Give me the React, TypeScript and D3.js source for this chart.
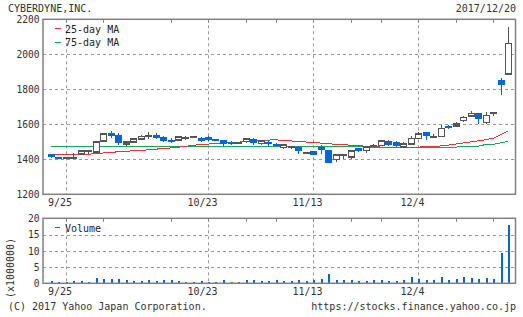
import React from "react";
import * as d3 from "d3";

const dates = [
  "9/21","9/22","9/25","9/26","9/27","9/28","9/29","10/2","10/3","10/4","10/5","10/6",
  "10/10","10/11","10/12","10/13","10/16","10/17","10/18","10/19","10/20","10/23","10/24",
  "10/25","10/26","10/27","10/30","10/31","11/1","11/2","11/6","11/7","11/8","11/9","11/10",
  "11/13","11/14","11/15","11/16","11/17","11/20","11/21","11/22","11/24","11/27","11/28",
  "11/29","11/30","12/1","12/4","12/5","12/6","12/7","12/8","12/11","12/12","12/13","12/14",
  "12/15","12/18","12/19","12/20",
];
const openP = [
  1429,1413,1405,1408,1431,1446,1442,1504,1550,1537,1486,1498,1515,1533,1537,1529,1513,1510,
  1524,1526,1523,1529,1517,1512,1498,1492,1502,1517,1490,1500,1490,1467,1469,1469,1438,1448,
  1469,1453,1400,1422,1412,1463,1451,1478,1478,1503,1499,1469,1486,1518,1554,1526,1531,1590,
  1589,1621,1646,1663,1611,1663,1853,1887,
];
const highP = [
  1432,1414,1407,1434,1450,1452,1506,1546,1562,1550,1500,1516,1540,1556,1548,1531,1523,1528,
  1533,1530,1527,1531,1518,1513,1504,1496,1523,1519,1506,1508,1494,1490,1478,1478,1442,1450,
  1480,1455,1430,1432,1448,1465,1472,1485,1505,1510,1506,1497,1533,1554,1555,1545,1594,1598,
  1615,1650,1675,1665,1672,1668,1864,2154,
];
const lowP = [
  1408,1402,1401,1402,1427,1431,1437,1504,1519,1481,1476,1497,1514,1515,1515,1498,1494,1502,
  1511,1520,1500,1504,1508,1477,1479,1485,1496,1479,1483,1477,1480,1460,1460,1430,1434,1425,
  1433,1381,1387,1402,1400,1444,1438,1474,1476,1474,1468,1467,1484,1516,1510,1524,1530,1571,
  1588,1615,1644,1602,1600,1645,1766,1887,
];
const closeP = [
  1412,1404,1405,1408,1446,1446,1500,1546,1531,1492,1499,1515,1531,1533,1523,1506,1500,1527,
  1524,1526,1506,1513,1508,1485,1494,1492,1517,1492,1504,1485,1486,1482,1469,1450,1438,1425,
  1455,1381,1424,1422,1446,1450,1470,1478,1503,1482,1476,1488,1520,1543,1535,1526,1577,1579,
  1602,1638,1661,1629,1650,1663,1823,2061,
];
const ma25 = [
  1428,1427,1425,1425,1426,1428,1433,1436,1439,1443,1445,1449,1451,1454,1458,1461,1465,1469,
  1474,1480,1484,1487,1489,1492,1495,1498,1501,1505,1508,1510,1511,1509,1505,1502,1499,1496,
  1493,1489,1486,1483,1481,1478,1475,1472,1470,1469,1469,1469,1469,1470,1471,1473,1476,1481,
  1487,1493,1499,1505,1512,1520,1540,1561,
];
const ma75 = [
  1476,1475,1471,1471,1471,1471,1471,1471,1471,1476,1476,1476,1476,1476,1472,1472,1472,1472,
  1475,1475,1475,1475,1475,1475,1475,1475,1475,1475,1475,1475,1475,1475,1471,1471,1471,1471,
  1471,1471,1471,1471,1471,1471,1471,1465,1465,1465,1465,1465,1465,1465,1465,1465,1469,1469,
  1469,1475,1475,1475,1484,1485,1494,1502,
];
const volume = [
  0.7,0.4,0.5,0.7,0.7,0.4,1.6,1.3,1.3,1.3,1.0,0.7,0.7,1.0,0.7,1.0,1.0,0.7,0.4,0.4,0.7,0.5,
  0.4,1.0,0.4,0.4,1.0,1.0,0.7,0.7,1.0,0.7,0.7,1.0,0.7,1.0,1.3,2.9,1.0,1.0,1.0,0.7,0.7,1.0,
  1.0,0.7,0.7,1.0,1.9,1.3,1.0,1.0,1.9,1.0,1.3,1.9,1.6,1.3,1.6,1.3,9.4,18.0,
];
const gridDates = ["9/25", "10/23", "11/13", "12/4"];
const tickDates = ["10/2", "10/16", "10/30", "11/6", "11/20", "11/27", "12/11", "12/18"];
const priceTicks = [1200, 1400, 1600, 1800, 2000, 2200];
const volTicks = [0, 5, 10, 15, 20];

const FONT = "'DejaVu Sans Mono', 'Liberation Mono', monospace";
const TXT = "#333";
const FRAME = "#808080";
const GRID = "#999";
const BLUE = "#0066dd";
const HOLLOW = "#555";
const RED = "#e8323c";
const GREEN = "#1da65a";

export default function App() {
  const W = 523, H = 317;
  const L = 43, R = 515.5;
  const x = d3.scaleLinear().domain([-1, dates.length]).range([L, R]);
  const yP = d3.scaleLinear().domain([1200, 2200]).range([194.3, 19.3]);
  const yV = d3.scaleLinear().domain([0, 20]).range([283.3, 218.3]);
  const idx = (d: string) => dates.indexOf(d);

  const line25 = d3.line<number>().x((_, i) => x(i)).y((v) => yP(v))(ma25) || "";
  const line75 = d3.line<number>().x((_, i) => x(i)).y((v) => yP(v))(ma75) || "";

  const bw = 6;

  const panel = (top: number, bottom: number) => (
    <g>
      {gridDates.map((d) => (
        <line key={"g" + d} x1={Math.round(x(idx(d))) + 0.5} x2={Math.round(x(idx(d))) + 0.5}
          y1={top} y2={bottom} stroke={GRID} strokeWidth={1} strokeDasharray="3,3" />
      ))}
      {tickDates.concat(gridDates).map((d) => (
        <line key={"t" + d} x1={Math.round(x(idx(d))) + 0.5} x2={Math.round(x(idx(d))) + 0.5}
          y1={top} y2={top + 3.5} stroke={FRAME} strokeWidth={1} />
      ))}
    </g>
  );

  return (
    <svg width={W} height={H} style={{ position: "absolute", left: 0, top: 0, background: "#fff" }}
      fontFamily={FONT} fontSize={10}>
      <rect x={0} y={0} width={W} height={H} fill="#fff" />
      <text x={8} y={12.3} fill={TXT}>CYBERDYNE,INC.</text>
      <text x={516} y={12.3} fill={TXT} textAnchor="end">2017/12/20</text>

      {/* price panel */}
      {priceTicks.slice(1, -1).map((p) => (
        <line key={"hp" + p} x1={L} x2={R} y1={Math.round(yP(p)) + 0.5} y2={Math.round(yP(p)) + 0.5}
          stroke={GRID} strokeDasharray="3,3" />
      ))}
      {panel(19.3, 194.3)}
      {priceTicks.map((p) => (
        <text key={"lp" + p} x={39.5} y={yP(p) + 3.8} fill={TXT} textAnchor="end" fontSize={9.6}>{p}</text>
      ))}
      {gridDates.map((d) => (
        <text key={"xp" + d} x={x(idx(d)) - 5.5} y={206} fill={TXT} textAnchor="middle">{d}</text>
      ))}

      <path d={line75} fill="none" stroke={GREEN} strokeWidth={1} shapeRendering="crispEdges" />
      <path d={line25} fill="none" stroke={RED} strokeWidth={1} shapeRendering="crispEdges" />

      {dates.map((d, i) => {
        const o = openP[i], c = closeP[i], h = highP[i], l = lowP[i];
        const cx = Math.round(x(i));
        const top = yP(Math.max(o, c)), bot = yP(Math.min(o, c));
        if (o === c) {
          return (
            <g key={"c" + i} shapeRendering="crispEdges">
              <line x1={cx + 0.5} x2={cx + 0.5} y1={yP(h)} y2={yP(l)} stroke={HOLLOW} strokeWidth={1} />
              <rect x={cx - 3} y={Math.round(top) - 1} width={7} height={2} fill={HOLLOW} />
            </g>
          );
        }
        if (c > o) {
          return (
            <g key={"c" + i} shapeRendering="crispEdges">
              <line x1={cx + 0.5} x2={cx + 0.5} y1={yP(h)} y2={yP(l)} stroke={HOLLOW} strokeWidth={1} />
              <rect x={cx - bw / 2 + 0.5} y={top} width={bw} height={Math.max(bot - top, 1)}
                fill="#fff" stroke={HOLLOW} strokeWidth={1.6} />
            </g>
          );
        }
        return (
          <g key={"c" + i} shapeRendering="crispEdges">
            <line x1={cx + 0.5} x2={cx + 0.5} y1={yP(h)} y2={yP(l)} stroke={BLUE} strokeWidth={1} />
            <rect x={cx - bw / 2} y={top} width={bw + 1} height={Math.max(bot - top, 2)} fill={BLUE} />
          </g>
        );
      })}

      <rect x={L} y={19.3} width={R - L} height={175} fill="none" stroke={FRAME} strokeWidth={1.5} />

      {/* legend */}
      <line x1={55} x2={61} y1={28.5} y2={28.5} stroke={RED} strokeWidth={1} />
      <text x={65} y={33} fill="#222">25-day MA</text>
      <line x1={55} x2={61} y1={42.5} y2={42.5} stroke={GREEN} strokeWidth={1} />
      <text x={65} y={46} fill="#222">75-day MA</text>

      {/* volume panel */}
      {volTicks.slice(1, -1).map((v) => (
        <line key={"hv" + v} x1={L} x2={R} y1={Math.round(yV(v)) + 0.5} y2={Math.round(yV(v)) + 0.5}
          stroke={GRID} strokeDasharray="3,3" />
      ))}
      {panel(218.3, 283.3)}
      {volume.map((v, i) => (
        <rect key={"v" + i} x={Math.round(x(i)) - 0.5} y={yV(v)} width={2} height={yV(0) - yV(v)}
          fill={BLUE} shapeRendering="crispEdges" />
      ))}
      <rect x={L} y={218.3} width={R - L} height={65} fill="none" stroke={FRAME} strokeWidth={1.5} />
      {volTicks.map((v) => (
        <text key={"lv" + v} x={39.5} y={yV(v) + 3.8} fill={TXT} textAnchor="end" fontSize={9.6}>{v}</text>
      ))}
      {gridDates.map((d) => (
        <text key={"xv" + d} x={x(idx(d)) - 5.5} y={295} fill={TXT} textAnchor="middle">{d}</text>
      ))}
      <text transform="translate(14,268) rotate(-90)" fill={TXT} textAnchor="middle">(x1000000)</text>
      <line x1={55} x2={60} y1={227.5} y2={227.5} stroke={BLUE} strokeWidth={1} />
      <text x={65} y={231.5} fill="#222">Volume</text>

      <text x={8} y={310} fill={TXT}>(C) 2017 Yahoo Japan Corporation.</text>
      <text x={516} y={310} fill={TXT} textAnchor="end">https://stocks.finance.yahoo.co.jp</text>
    </svg>
  );
}
